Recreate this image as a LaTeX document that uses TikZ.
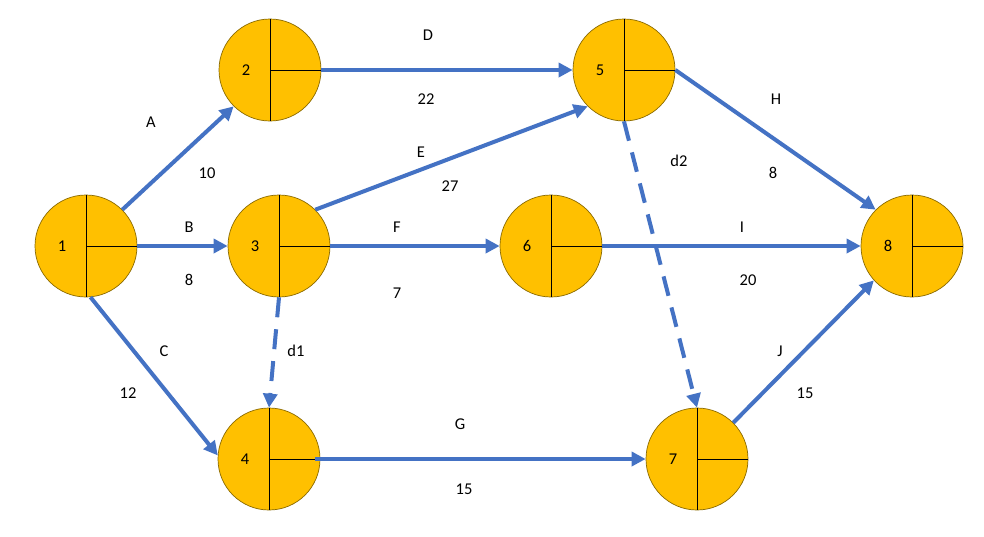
\documentclass[tikz,border=0pt]{standalone}
\usepackage{fontspec}
\setmainfont{Carlito}
\usetikzlibrary{arrows.meta}
\definecolor{nodefill}{HTML}{FFC000}
\definecolor{nodeedge}{HTML}{8A6A00}
\definecolor{edgeblue}{HTML}{4472C4}
\begin{document}
\begin{tikzpicture}[x=1pt,y=-1pt,
  ev/.style={circle,fill=nodefill,draw=nodeedge,line width=0.7pt,minimum size=102pt,inner sep=0pt},
  act/.style={draw=edgeblue,line width=4pt,-{Triangle[length=14pt,width=14pt]},shorten >=0pt},
  dummy/.style={act,dash pattern=on 20pt off 12pt},
  lbl/.style={font=\fontsize{16.5}{19}\selectfont,inner sep=0pt}]
\useasboundingbox (0,0) rectangle (984,536);
\fill[white] (0,0) rectangle (984,536);
% nodes
\node[ev] (n1) at (86,246) {};
\node[ev] (n2) at (270,70) {};
\node[ev] (n3) at (279,246) {};
\node[ev] (n4) at (269,459) {};
\node[ev] (n5) at (624,70) {};
\node[ev] (n6) at (551,246) {};
\node[ev] (n7) at (697,459) {};
\node[ev] (n8) at (912,246) {};
% dividers and numbers
\foreach \n/\t in {n1/1,n2/2,n3/3,n4/4,n5/5,n6/6,n7/7,n8/8}{
  \draw[black,line width=0.8pt] (\n.north) -- (\n.south);
  \draw[black,line width=0.8pt] (\n.center) -- (\n.east);
  \node[lbl] at ([xshift=-24pt]\n.center) {\t};
}
% edges
\draw[act] (n1.45) -- (n2.225);
\draw[act] (n1.east) -- (n3.west);
\draw[act] (n1.-85) -- (n4.176);
\draw[act] (n2.east) -- (n5.west);
\draw[act] (n3.45) -- (n5.225);
\draw[act] (n3.east) -- (n6.west);
\draw[dummy] (n3.south) -- (n4.north);
\draw[act] ([xshift=-5pt]n4.east) -- (n7.west);
\draw[act] (n5.east) -- (n8.135);
\draw[dummy] (n5.south) -- (n7.north);
\draw[act] (n6.east) -- (n8.west);
\draw[act] (n7.45) -- (n8.222);
% labels
\node[lbl] (lA) at (151,122) {A};
\node[lbl] (l10) at (207,173) {10};
\node[lbl] (lB) at (189,227) {B};
\node[lbl] (l8a) at (189,280) {8};
\node[lbl] (lC) at (164,351) {C};
\node[lbl] (l12) at (128,393) {12};
\node[lbl] (lD) at (428,35) {D};
\node[lbl] (l22) at (426,99) {22};
\node[lbl] (lE) at (421,152) {E};
\node[lbl] (l27) at (450,186) {27};
\node[lbl] (lF) at (397,227) {F};
\node[lbl] (l7) at (397,293) {7};
\node[lbl] (ld1) at (296,351) {d1};
\node[lbl] (lG) at (460,424) {G};
\node[lbl] (l15a) at (464,489) {15};
\node[lbl] (ld2) at (679,161) {d2};
\node[lbl] (lH) at (776,99) {H};
\node[lbl] (l8b) at (773,173) {8};
\node[lbl] (lI) at (742,227) {I};
\node[lbl] (l20) at (748,280) {20};
\node[lbl] (lJ) at (780,351) {J};
\node[lbl] (l15b) at (805,393) {15};
\end{tikzpicture}
\end{document}
